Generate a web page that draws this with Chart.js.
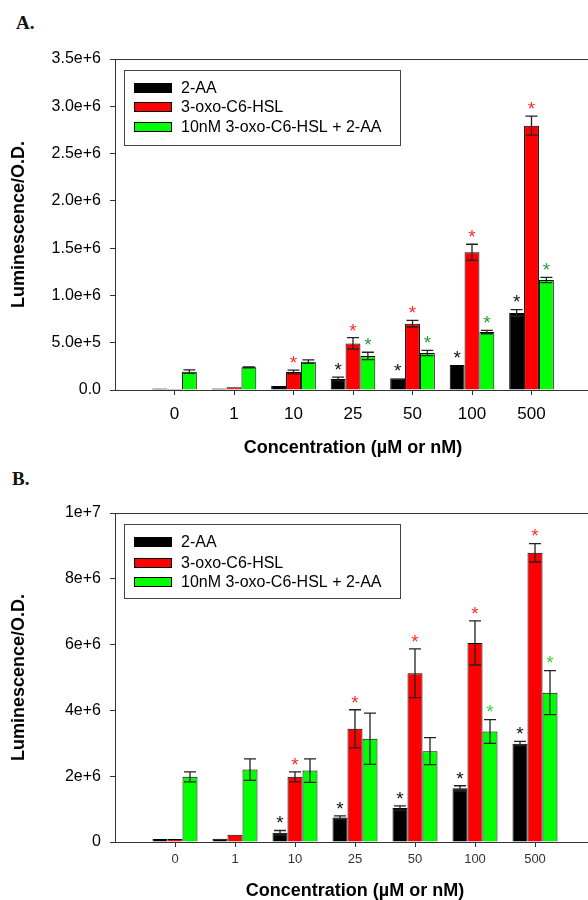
<!DOCTYPE html>
<html>
<head>
<meta charset="utf-8">
<script src="https://cdn.jsdelivr.net/npm/chart.js@4.4.0/dist/chart.umd.min.js"></script>
<style>
  body { margin: 0; width: 588px; height: 900px; overflow: hidden; position: relative; background: #fff; }
  canvas { position: absolute; left: 0; }
  #chartA { top: 0; }
  #chartB { top: 455px; }
  .panel-label { position: absolute; font: bold 19px "Liberation Serif", "Times New Roman", serif; color: #111; }
</style>
</head>
<body>
<div class="panel-label" style="left:16px;top:12px;">A.</div>
<div class="panel-label" style="left:12px;top:468px;">B.</div>
<canvas id="chartA" width="600" height="470"></canvas>
<canvas id="chartB" width="600" height="450"></canvas>
<script>
const categories = ["0", "1", "10", "25", "50", "100", "500"];
const seriesNames = ["2-AA", "3-oxo-C6-HSL", "10nM 3-oxo-C6-HSL + 2-AA"];
const barColors = ["#000000", "#ff0000", "#00ff00"];

// panel A
const a2AA = [1.5e4, 1.5e4, 4.2e4, 1.16e5, 1.23e5, 2.64e5, 8.15e5];
const a2AAErr = [0, 0, 0, 2e4, 0, 0, 3.5e4];
const aHSL = [1.0e4, 2.8e4, 1.9e5, 4.93e5, 7.01e5, 1.456e6, 2.795e6];
const aHSLErr = [0, 0, 2e4, 6e4, 3.5e4, 8.5e4, 1.0e5];
const aMix = [1.94e5, 2.4e5, 3.0e5, 3.6e5, 3.91e5, 6.13e5, 1.163e6];
const aMixErr = [1.8e4, 5e3, 1.8e4, 3.9e4, 2.8e4, 1.8e4, 2.8e4];
const a2AAStar = [0, 0, 0, 1, 1, 1, 1];
const aHSLStar = [0, 0, 1, 1, 1, 1, 1];
const aMixStar = [0, 0, 0, 1, 1, 1, 1];
const aYTicks = [0, 5e5, 1e6, 1.5e6, 2e6, 2.5e6, 3e6, 3.5e6];

// panel B
const b2AA = [9e4, 1e5, 2.8e5, 7.45e5, 1.03e6, 1.63e6, 2.99e6];
const b2AAErr = [0, 0, 7e4, 5e4, 7e4, 8e4, 7e4];
const bHSL = [9e4, 2.2e5, 1.98e6, 3.44e6, 5.13e6, 6.05e6, 8.79e6];
const bHSLErr = [0, 0, 1.5e5, 5.8e5, 7.4e5, 6.7e5, 2.8e5];
const bMix = [1.98e6, 2.2e6, 2.17e6, 3.14e6, 2.76e6, 3.36e6, 4.54e6];
const bMixErr = [1.5e5, 3.25e5, 3.55e5, 7.8e5, 4.1e5, 3.6e5, 6.7e5];
const b2AAStar = [0, 0, 1, 1, 1, 1, 1];
const bHSLStar = [0, 0, 1, 1, 1, 1, 1];
const bMixStar = [0, 0, 0, 0, 0, 1, 1];
const bYTicks = [0, 2e6, 4e6, 6e6, 8e6, 1e7];

const FONT = "'Liberation Sans', Arial, sans-serif";
const AXIS_COLOR = "#333";

// one empty slot on each side of the categories
const padded = (arr, fill) => [fill, ...arr, fill];
const xLabels = padded(categories, "");

// error bars + significance stars
const errorBarPlugin = {
  id: "errorBars",
  afterDatasetsDraw(chart, args, opts) {
    const { ctx } = chart;
    const y = chart.scales.y;
    ctx.save();
    chart.data.datasets.forEach((ds, i) => {
      const meta = chart.getDatasetMeta(i);
      ds.raw.forEach((v, j) => {
        const el = meta.data[j + 1];
        const e = ds.err[j];
        let top = y.getPixelForValue(v);
        if (e > 0) {
          top = y.getPixelForValue(v + e);
          const bot = y.getPixelForValue(v - e);
          ctx.strokeStyle = "#222";
          ctx.lineWidth = 1.3;
          ctx.beginPath();
          ctx.moveTo(el.x, top);
          ctx.lineTo(el.x, bot);
          ctx.moveTo(el.x - 6, top);
          ctx.lineTo(el.x + 6, top);
          ctx.moveTo(el.x - 6, bot);
          ctx.lineTo(el.x + 6, bot);
          ctx.stroke();
        }
        if (ds.star[j]) {
          ctx.fillStyle = opts.starColors[i];
          ctx.font = opts.starSize + "px " + FONT;
          ctx.textAlign = "center";
          ctx.textBaseline = "alphabetic";
          ctx.fillText("*", el.x, top - 12 + opts.starSize * 0.57);
        }
      });
    });
    ctx.restore();
  },
};

// boxed legend in the top-left of the plot
const boxLegendPlugin = {
  id: "boxLegend",
  afterDraw(chart, args, opts) {
    const { ctx, chartArea } = chart;
    const left = chartArea.left + 9;
    const top = chartArea.top + 11;
    ctx.save();
    ctx.strokeStyle = "#444";
    ctx.lineWidth = 1;
    ctx.strokeRect(left + 0.5, top + 0.5, 276, opts.height);
    chart.data.datasets.forEach((ds, i) => {
      const cy = top + opts.rows[i];
      ctx.fillStyle = ds.backgroundColor;
      ctx.fillRect(left + 10, cy - 5, 38, 10);
      ctx.strokeStyle = "#000";
      ctx.strokeRect(left + 10.5, cy - 4.5, 37, 9);
      ctx.fillStyle = "#000";
      ctx.font = "16px " + FONT;
      ctx.textAlign = "left";
      ctx.textBaseline = "middle";
      ctx.fillText(ds.label, left + 57, cy + 1);
    });
    ctx.restore();
  },
};

function makeChart(id, p) {
  const datasets = p.series.map((s, i) => ({
    label: seriesNames[i],
    data: padded(s.values, null),
    raw: s.values,
    err: s.err,
    star: s.star,
    backgroundColor: barColors[i],
    borderColor: "#000",
    borderWidth: 1,
    categoryPercentage: 0.75,
    barPercentage: 1.0,
  }));

  return new Chart(document.getElementById(id), {
    type: "bar",
    data: { labels: xLabels, datasets: datasets },
    plugins: [errorBarPlugin, boxLegendPlugin],
    options: {
      responsive: false,
      animation: false,
      devicePixelRatio: 1,
      layout: { padding: { top: p.padTop, right: 3, left: 0, bottom: 0 } },
      plugins: {
        legend: { display: false },
        tooltip: { enabled: false },
        errorBars: { starColors: p.starColors, starSize: 19 },
        boxLegend: { rows: p.legendRows, height: p.legendHeight },
      },
      scales: {
        x: {
          type: "category",
          offset: false,
          grid: {
            offset: false,
            drawOnChartArea: false,
            drawTicks: true,
            tickLength: 5,
            tickColor: (c) => (xLabels[c.index] === "" ? "rgba(0,0,0,0)" : AXIS_COLOR),
          },
          border: { color: AXIS_COLOR, width: 1 },
          ticks: {
            color: p.xTickColor,
            font: { family: FONT, size: p.xTickSize },
            padding: p.xTickPad,
            autoSkip: false,
            maxRotation: 0,
          },
          title: {
            display: true,
            text: "Concentration (µM or nM)",
            color: "#000",
            font: { family: FONT, size: 18, weight: "bold" },
            padding: { top: 0, bottom: p.xTitlePad },
          },
          afterFit: (s) => { s.height = p.xAxisHeight; },
        },
        x2: {
          type: "linear",
          position: "top",
          display: true,
          grid: { drawOnChartArea: false, drawTicks: false },
          ticks: { display: false },
          border: { color: AXIS_COLOR, width: 1 },
        },
        y: {
          min: 0,
          max: p.yTicks[p.yTicks.length - 1],
          afterBuildTicks: (s) => { s.ticks = p.yTicks.map((v) => ({ value: v })); },
          grid: { drawOnChartArea: false, drawTicks: true, tickLength: 5, tickColor: AXIS_COLOR },
          border: { color: AXIS_COLOR, width: 1 },
          ticks: {
            color: "#000",
            font: { family: FONT, size: 16 },
            padding: 9,
            callback: p.yFormat,
          },
          title: {
            display: true,
            text: "Luminescence/O.D.",
            color: "#000",
            font: { family: FONT, size: 18, weight: "bold" },
            padding: { top: 8, bottom: 0 },
          },
          afterFit: (s) => { s.width = 115; },
        },
      },
    },
  });
}

makeChart("chartA", {
  series: [
    { values: a2AA, err: a2AAErr, star: a2AAStar },
    { values: aHSL, err: aHSLErr, star: aHSLStar },
    { values: aMix, err: aMixErr, star: aMixStar },
  ],
  starColors: ["#111", "#ff2a2a", "#2a9a3a"],
  yTicks: aYTicks,
  yFormat: (v) => (v === 0 ? "0.0" : v.toExponential(1)),
  padTop: 59,
  xAxisHeight: 80,
  xTickSize: 17,
  xTickColor: "#000",
  xTickPad: 9,
  xTitlePad: 11,
  legendRows: [18, 37, 57],
  legendHeight: 75,
});

makeChart("chartB", {
  series: [
    { values: b2AA, err: b2AAErr, star: b2AAStar },
    { values: bHSL, err: bHSLErr, star: bHSLStar },
    { values: bMix, err: bMixErr, star: bMixStar },
  ],
  starColors: ["#111", "#ff2a2a", "#33d633"],
  yTicks: bYTicks,
  yFormat: (v) => (v === 0 ? "0" : v.toExponential(0)),
  padTop: 58,
  xAxisHeight: 63,
  xTickSize: 13,
  xTickColor: "#333",
  xTickPad: 5,
  xTitlePad: 3,
  legendRows: [18, 39, 58],
  legendHeight: 74,
});
</script>
</body>
</html>
